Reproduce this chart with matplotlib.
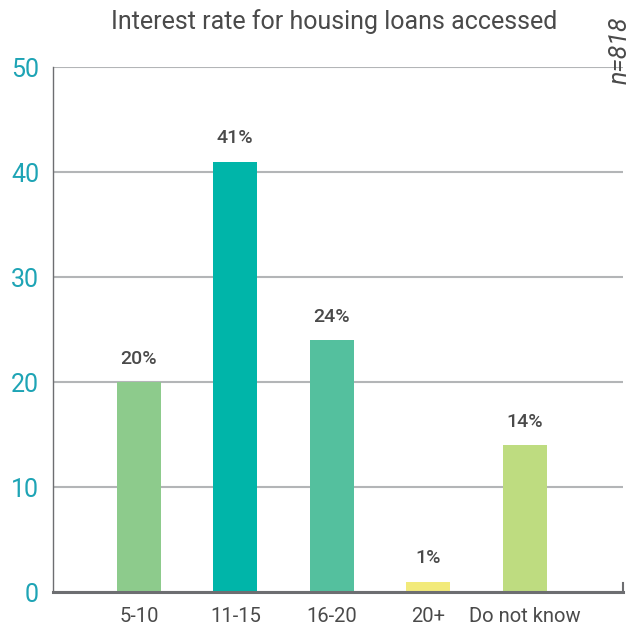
import matplotlib.pyplot as plt
import numpy as np

plt.rcParams['font.family'] = ['Roboto', 'DejaVu Sans']

# Interest rate buckets and share of respondents (%)
categories = ['5-10', '11-15', '16-20', '20+', 'Do not know']
shares = [20, 41, 24, 1, 14]
colors = ['#8dcb8c', '#00b5a9', '#54c09e', '#f2ea7a', '#bedc80']
yticks = [0, 10, 20, 30, 40, 50]

fig = plt.figure(figsize=(6.36, 6.31), dpi=100)
ax = fig.add_axes([0.0833, 0.0618, 0.8963, 0.832])

x = np.arange(len(categories))
bars = ax.bar(x, shares, width=0.456, color=colors, zorder=3)

for xi, v in zip(x, shares):
    ax.text(xi, v + 1.35, f'{v}%', ha='center', va='bottom',
            fontsize=14, color='#4a4a4a', fontweight='medium')

ax.set_xlim(-0.89, 5.02)
ax.set_ylim(0, 50)
ax.set_yticks(yticks)
ax.set_xticks(x)
ax.set_xticklabels(categories, fontsize=14.5, color='#4a4a4a')
ax.tick_params(axis='y', length=0, pad=10, labelsize=18, labelcolor='#1ea4b5')
ax.tick_params(axis='x', length=0, pad=11)
ax.set_yticklabels([str(t) for t in yticks])

ax.yaxis.grid(True, color='#b3b5b7', linewidth=1.5, zorder=0)
ax.set_axisbelow(True)

for s in ['top', 'right']:
    ax.spines[s].set_visible(False)
ax.spines['left'].set_color('#6d6e71')
ax.spines['left'].set_linewidth(1.0)
ax.spines['bottom'].set_color('#6d6e71')
ax.spines['bottom'].set_linewidth(2.2)
ax.spines['bottom'].set_zorder(4)
# small closing tick at the right end of the baseline
ax.axvline(5.02, ymin=0, ymax=0.018, color='#6d6e71', linewidth=1.5, clip_on=False)

fig.text(0.525, 0.966, 'Interest rate for housing loans accessed', ha='center',
         va='center', fontsize=18, color='#4a4a4a')
fig.text(0.975, 0.921, 'n=818', rotation=90, ha='center', va='center',
         fontsize=18, style='italic', color='#4a4a4a')

fig.savefig('out.png', dpi=100)
